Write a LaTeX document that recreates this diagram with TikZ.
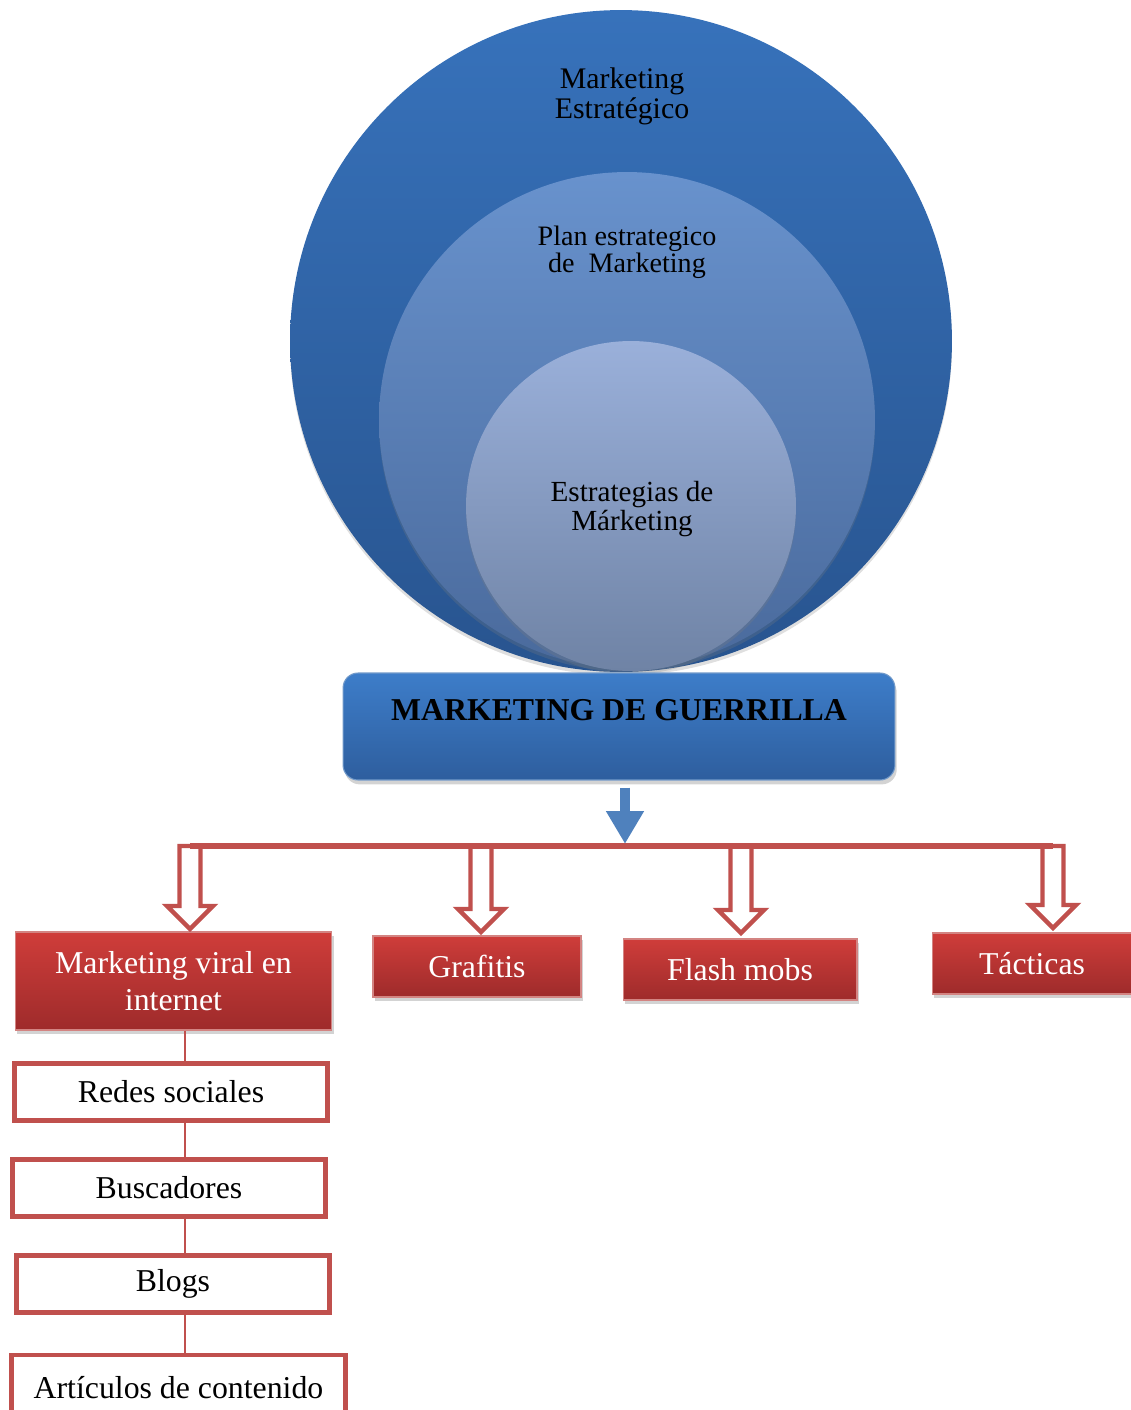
\documentclass[tikz,border=0pt]{standalone}
\usepackage{fontspec}
\setmainfont{Liberation Serif}
\usetikzlibrary{shadows,arrows.meta,calc}

\definecolor{redline}{HTML}{C0504D}
\definecolor{redtop}{HTML}{CF3D3A}
\definecolor{redbot}{HTML}{9E2B2B}
\definecolor{bluearrow}{HTML}{4F81BD}
\definecolor{outertop}{HTML}{3772BB}
\definecolor{outerbot}{HTML}{28548F}
\definecolor{midtop}{HTML}{6892CD}
\definecolor{midbot}{HTML}{4A6A9C}
\definecolor{innertop}{HTML}{9AB0DA}
\definecolor{innerbot}{HTML}{6F83A5}
\definecolor{guertop}{HTML}{3D7DC9}
\definecolor{guerbot}{HTML}{2E5E9E}

\newcommand{\boxfont}{\fontsize{18.1pt}{21.5pt}\selectfont}
\newcommand{\ringfont}{\fontsize{17pt}{17pt}\selectfont}

\begin{document}
\begin{tikzpicture}[x=0.02cm,y=0.02cm]
    \tikzstyle{every node}+=[inner sep=0pt]
    \tikzstyle{ring}=[circle, draw=none, drop shadow={opacity=0.25,shadow xshift=0pt,shadow yshift=-2pt}]
    \tikzstyle{ringtext}=[align=center, font=\ringfont]
    \tikzstyle{redbox}=[rectangle, draw=redline!70!white, line width=0.6pt, top color=redtop, bottom color=redbot,
        text=white, align=center, font=\boxfont, drop shadow={opacity=0.35,shadow xshift=1pt,shadow yshift=-2.5pt}]
    \tikzstyle{whitebox}=[rectangle, draw=redline, line width=2.8pt, fill=white, align=center, font=\boxfont,
        minimum width=6.26cm, minimum height=1.14cm]
    \tikzstyle{hollow}=[draw=redline, line width=2.5pt, fill=white, line join=miter]
    \tikzstyle{spineline}=[draw=redline, line width=1.1pt]
    \useasboundingbox (0,0) rectangle (1130,-1410);

    % the three circles
    \node[ring, minimum size=13.24cm, top color=outertop, bottom color=outerbot] (outer) at (621,-341) {};
    \node[ring, minimum size=9.92cm, top color=midtop, bottom color=midbot] (middle) at (627,-420) {};
    \node[ring, minimum size=6.6cm, top color=innertop, bottom color=innerbot] (inner) at (631,-506) {};
    \node[ringtext] (outertext) at (622,-96) {Marketing\\Estratégico};
    \node[ringtext, font=\fontsize{16pt}{15.4pt}\selectfont] (middletext) at (627,-252) {Plan estrategico\\de\ \ Marketing};
    \node[ringtext, font=\fontsize{16.6pt}{17pt}\selectfont] (innertext) at (632,-509) {Estrategias de\\Márketing};

    % guerrilla box
    \node[rectangle, rounded corners=8.5pt, draw=bluearrow!80!white, line width=0.6pt, top color=guertop, bottom color=guerbot,
        minimum width=11.04cm, minimum height=2.14cm, drop shadow={opacity=0.35,shadow xshift=1pt,shadow yshift=-2.5pt}]
        (guerrilla) at (619,-726.5) {};
    \node[font=\boxfont\bfseries] (guerrillatext) at (619,-710) {MARKETING DE GUERRILLA};

    % red boxes
    \node[redbox, minimum width=6.34cm, minimum height=1.96cm] (viral) at (173.5,-981) {Marketing viral en\\internet};
    \node[redbox, minimum width=4.16cm, minimum height=1.22cm] (graf) at (477,-966.5) {Grafitis};
    \node[redbox, minimum width=4.68cm, minimum height=1.22cm] (flash) at (740,-969.5) {Flash mobs};
    \node[redbox, minimum width=4.0cm, minimum height=1.22cm] (tact) at (1032,-963.5) {Tácticas};

    % white boxes
    \node[whitebox] (redes) at (171,-1092) {Redes sociales};
    \node[whitebox] (busc) at (169,-1188) {Buscadores};
    \node[whitebox] (blogs) at (173,-1284) {Blogs};
    \node[whitebox, minimum width=6.68cm, minimum height=1.32cm] (art) at (178.5,-1388) {Artículos de contenido};

    % arrows
    \coordinate (bar) at (625,-846);
    \coordinate (barleft) at (190,-846);
    \coordinate (barright) at (1053,-846);
    \foreach \x/\t in {190/929, 481/932, 741/933, 1053/928}
        \draw[hollow] (\x-10.5,-846) -- (\x-10.5,-\t+23) -- (\x-23,-\t+23) -- (\x,-\t) -- (\x+23,-\t+23)
            -- (\x+10.5,-\t+23) -- (\x+10.5,-846) -- cycle;
    \draw[redline, line width=3.2pt] (barleft) -- (barright);
    \draw[bluearrow, line width=6.2pt, -{Triangle[width=20.4pt,length=18.7pt]}, shorten <=4pt, shorten >=1.2pt]
        (guerrilla.south -| bar) -- (bar);

    % spine of the left column
    \coordinate (spine) at (185,0);
    \draw[spineline] (viral.south -| spine) -- (redes.north -| spine);
    \draw[spineline] (redes.south -| spine) -- (busc.north -| spine);
    \draw[spineline] (busc.south -| spine) -- (blogs.north -| spine);
    \draw[spineline] (blogs.south -| spine) -- (art.north -| spine);
\end{tikzpicture}
\end{document}
